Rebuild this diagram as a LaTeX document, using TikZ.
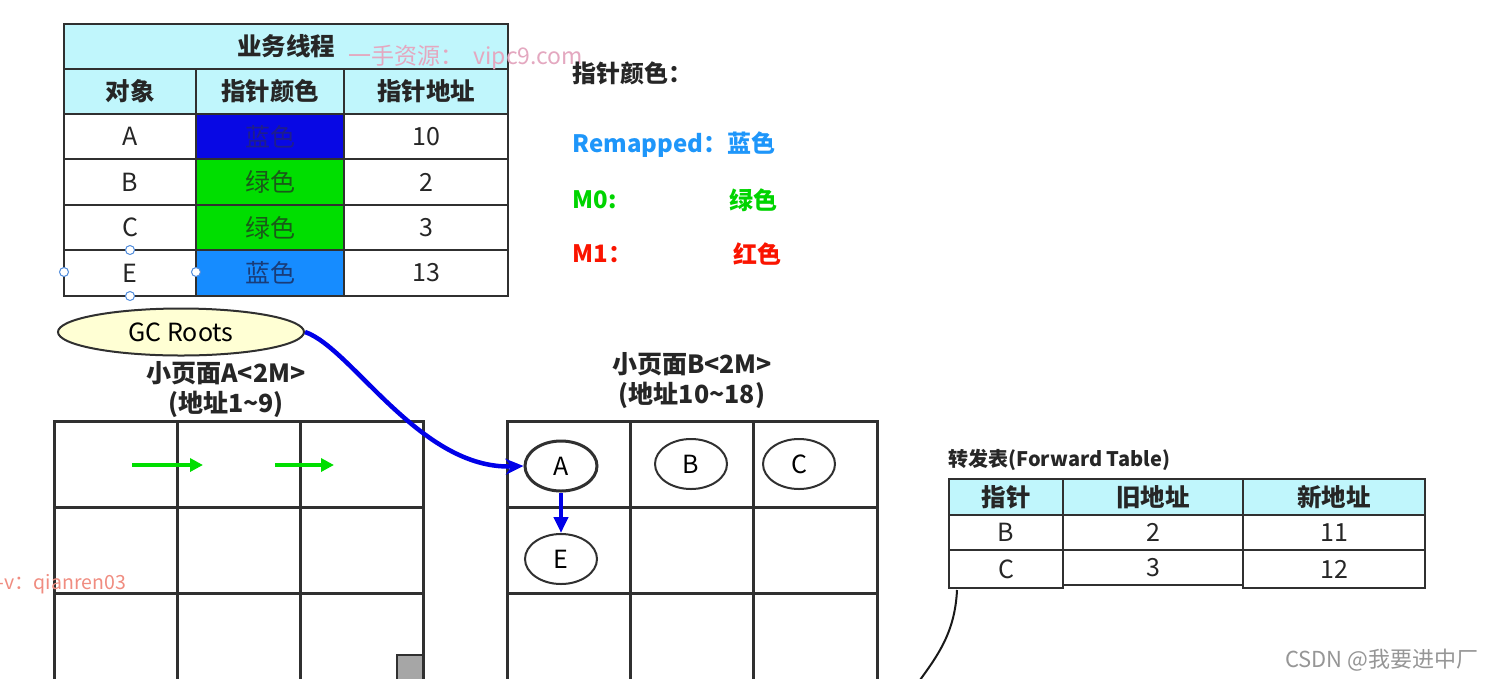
\documentclass[tikz,border=0pt]{standalone}
\usepackage{fontspec}
\setmainfont{Noto Sans CJK SC}
\usetikzlibrary{shapes.geometric,arrows.meta,calc}
\definecolor{hdr}{RGB}{192,246,252}
\definecolor{gridc}{RGB}{48,48,48}
\definecolor{cblueA}{RGB}{8,8,228}
\definecolor{cgreen}{RGB}{0,222,0}
\definecolor{cblueE}{RGB}{22,140,255}
\definecolor{txA}{RGB}{30,30,140}
\definecolor{txG}{RGB}{25,90,25}
\definecolor{txE}{RGB}{25,60,120}
\definecolor{legblue}{RGB}{30,150,250}
\definecolor{leggreen}{RGB}{0,212,0}
\definecolor{legred}{RGB}{250,20,0}
\definecolor{curveblue}{RGB}{0,0,232}
\definecolor{gcfill}{RGB}{255,255,212}
\definecolor{wmpink}{RGB}{228,168,192}
\definecolor{wmsalmon}{RGB}{240,140,128}
\definecolor{wmgray}{RGB}{150,150,150}
\definecolor{handle}{RGB}{80,140,220}
\newcommand{\tcell}[8]{%
  \draw[cellline,fill=#6] (#2,#3) rectangle (#4,#5);
  \node[#7] (#1) at ($(#2,#3)!0.5!(#4,#5)$) {#8};}
\tikzset{
  cellline/.style={draw=gridc,line width=2.8pt},
  gridline/.style={draw=gridc,line width=3pt},
  hdrtext/.style={font=\bfseries\fontsize{24.5}{28}\selectfont,text=black!85},
  valtext/.style={font=\fontsize{25}{28}\selectfont,text=black!85},
  objell/.style={ellipse,draw=gridc,line width=2pt,minimum width=72pt,minimum height=50pt,inner sep=0pt,font=\fontsize{25}{28}\selectfont},
  greenarrow/.style={draw=cgreen,line width=4pt,-{Triangle[length=13pt,width=13pt]}},
  bluecurve/.style={draw=curveblue,line width=4.5pt,-{Stealth[length=18pt,width=16pt]}},
  handlec/.style={circle,draw=handle,fill=white,line width=1pt,minimum size=9pt,inner sep=0pt},
  legtext/.style={anchor=west,font=\bfseries\fontsize{24}{28}\selectfont},
  pagelab/.style={align=center,font=\bfseries\fontsize{25}{30}\selectfont,text=black!85},
}
\begin{document}
\begin{tikzpicture}[x=1pt,y=-1pt]
\useasboundingbox[fill=white] (0,0) rectangle (1495,678);
\clip (0,0) rectangle (1495,678);

% ---------- thread table ----------
\tcell{tt}{64}{24}{508}{69}{hdr}{hdrtext}{业务线程}
\tcell{h1}{64}{69}{196}{114}{hdr}{hdrtext}{对象}
\tcell{h2}{196}{69}{344}{114}{hdr}{hdrtext}{指针颜色}
\tcell{h3}{344}{69}{508}{114}{hdr}{hdrtext}{指针地址}
\tcell{a1}{64}{114}{196}{159}{white}{valtext}{A}
\tcell{a2}{196}{114}{344}{159}{cblueA}{valtext,text=txA}{蓝色}
\tcell{a3}{344}{114}{508}{159}{white}{valtext}{10}
\tcell{b1}{64}{159}{196}{205}{white}{valtext}{B}
\tcell{b2}{196}{159}{344}{205}{cgreen}{valtext,text=txG}{绿色}
\tcell{b3}{344}{159}{508}{205}{white}{valtext}{2}
\tcell{c1}{64}{205}{196}{250}{white}{valtext}{C}
\tcell{c2}{196}{205}{344}{250}{cgreen}{valtext,text=txG}{绿色}
\tcell{c3}{344}{205}{508}{250}{white}{valtext}{3}
\tcell{e1}{64}{250}{196}{296}{white}{valtext}{E}
\tcell{e2}{196}{250}{344}{296}{cblueE}{valtext,text=txE}{蓝色}
\tcell{e3}{344}{250}{508}{296}{white}{valtext}{13}
% selection handles
\node[handlec] (hn) at (130,250) {};
\node[handlec] (hw) at (64,272) {};
\node[handlec] (he) at (196,272) {};
\node[handlec] (hs) at (130,296) {};

% watermark
\node[anchor=west,text=wmpink,font=\fontsize{23}{26}\selectfont] (wm1) at (345,57) {一手资源：\hspace{10pt}vipc9.com};

% ---------- legend ----------
\node[legtext,text=black!85] (lg0) at (569,73) {指针颜色：};
\node[legtext,text=legblue] (lg1) at (569,145) {Remapped：蓝色};
\node[legtext,text=leggreen] (lg2) at (569,200) {M0:};
\node[legtext,text=leggreen] (lg2b) at (726,200) {绿色};
\node[legtext,text=legred] (lg3) at (569,254) {M1：};
\node[legtext,text=legred] (lg3b) at (730,254) {红色};

% ---------- GC roots ----------
\node[ellipse,draw=gridc,line width=2pt,fill=gcfill,minimum width=246pt,minimum height=47pt,inner sep=0pt,font=\fontsize{25}{28}\selectfont] (gc) at (181,332) {GC Roots};

% ---------- page A ----------
\node[pagelab] (labA) at (226,390) {小页面A<2M>\\(地址1\textasciitilde 9)};
\draw[gridline] (54,690) -- (54,421) -- (423,421) -- (423,690);
\draw[gridline] (177,421) -- (177,690);
\draw[gridline] (300,421) -- (300,690);
\draw[gridline] (54,507) -- (423,507);
\draw[gridline] (54,593) -- (423,593);
\draw[draw=gridc,line width=2pt,fill=black!35] (397,655) rectangle (423,690);
\coordinate (ga1) at (132,465);
\coordinate (ga1e) at (203,465);
\coordinate (ga2) at (275,465);
\coordinate (ga2e) at (334,465);
\draw[greenarrow] (ga1) -- (ga1e);
\draw[greenarrow] (ga2) -- (ga2e);

% ---------- page B ----------
\node[pagelab] (labB) at (692,381) {小页面B<2M>\\(地址10\textasciitilde 18)};
\draw[gridline] (507,690) -- (507,421) -- (877,421) -- (877,690);
\draw[gridline] (630,421) -- (630,690);
\draw[gridline] (753,421) -- (753,690);
\draw[gridline] (507,507) -- (877,507);
\draw[gridline] (507,593) -- (877,593);
\node[objell,line width=3pt,fill=white] (oA) at (561,466) {A};
\node[objell,fill=white] (oB) at (691,464) {B};
\node[objell,fill=white] (oC) at (799,464) {C};
\node[objell,fill=white] (oE) at (561,559) {E};
\draw[draw=curveblue,line width=4pt,-{Triangle[length=16pt,width=14pt]}] (oA.south) -- (oE.north);
\draw[bluecurve] (gc.east) .. controls (352,348) and (420,470) .. (oA.west);

% ---------- forward table ----------
\node[anchor=west,font=\bfseries\fontsize{20}{23}\selectfont,text=black!85] (ftt) at (945,460) {转发表(Forward Table)};
\tcell{f1}{949}{479}{1063}{515}{hdr}{hdrtext}{指针}
\tcell{f2}{1063}{479}{1243}{515}{hdr}{hdrtext}{旧地址}
\tcell{f3}{1243}{479}{1425}{515}{hdr}{hdrtext}{新地址}
\tcell{fb1}{949}{515}{1063}{550}{white}{valtext}{B}
\tcell{fb2}{1063}{515}{1243}{550}{white}{valtext}{2}
\tcell{fb3}{1243}{515}{1425}{550}{white}{valtext}{11}
\tcell{fc1}{949}{550}{1063}{588}{white}{valtext}{C}
\tcell{fc2}{1063}{550}{1243}{585}{white}{valtext}{3}
\tcell{fc3}{1243}{550}{1425}{588}{white}{valtext}{12}
\coordinate (fstart) at ($(fc1)+(-49,21)$);
\coordinate (fend) at (920,680);
\draw[draw=black!90,line width=2pt] (fstart) .. controls (955,632) and (938,655) .. (fend);

% ---------- watermarks ----------
\node[anchor=west,text=wmsalmon,font=\fontsize{19.5}{22}\selectfont] (wm2) at (-6,584) {-v：qianren03};
\node[anchor=east,text=wmgray,font=\fontsize{22}{24}\selectfont] (wm3) at (1482,660) {CSDN @我要进中厂};
\end{tikzpicture}
\end{document}
